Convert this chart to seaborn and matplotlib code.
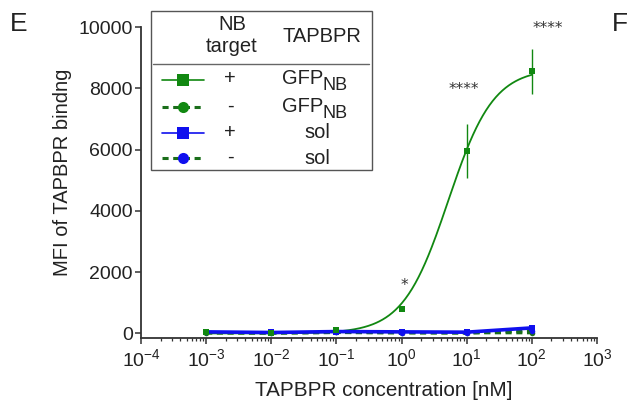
import numpy as np
import pandas as pd
import matplotlib
matplotlib.use("Agg")
import matplotlib.pyplot as plt
import seaborn as sns
from matplotlib.lines import Line2D
from matplotlib.patches import Rectangle

# Data
conc = [1e-3, 1e-2, 1e-1, 1, 10, 100]
gfp_pos = [40, 20, 100, 810, 5950, 8550]
gfp_pos_err = [0, 0, 0, 0, 880, 730]
gfp_neg = [10, 10, 30, 20, 20, 20]
sol_pos = [50, 30, 60, 50, 40, 180]
sol_neg = [30, 10, 30, 20, 10, 90]

# Hill fit parameters for the GFP_NB + curve
fit_top = 8650
fit_ec50 = 5.2
fit_hill = 1.25

# significance annotations (x, y, text)
sig_x = [1.1, 9.0, 175]
sig_y = [1570, 7950, 9950]
sig_txt = ['*', '****', '****']

sns.set_theme(style='ticks')
plt.rcParams['font.family'] = ['Liberation Sans', 'DejaVu Sans']
plt.rcParams['mathtext.fontset'] = 'custom'
plt.rcParams['mathtext.rm'] = 'Liberation Sans'

green = '#118811'
dgreen = '#1a6e1a'
blue = '#1010ee'
axcol = '#333333'
txtcol = '#222222'

fig = plt.figure(figsize=(6.32, 4.05), dpi=100)
ax = fig.add_axes([141 / 632, 1 - 338 / 405, (597 - 141) / 632, (338 - 27) / 405])

# fitted curve
xfit = np.logspace(-3, 2, 300)
yfit = fit_top * xfit ** fit_hill / (xfit ** fit_hill + fit_ec50 ** fit_hill)
sns.lineplot(x=xfit, y=yfit, color=green, lw=1.3, ax=ax, estimator=None)

# flat series
sns.lineplot(x=conc, y=gfp_neg, color=dgreen, lw=2.2, ls=(0, (2, 1.5)), marker='o',
             markersize=4, markeredgewidth=0, ax=ax)
sns.lineplot(x=conc, y=sol_neg, color=dgreen, lw=2.2, ls=(0, (2, 1.5)), marker='o',
             markersize=4, markerfacecolor=blue, markeredgewidth=0, ax=ax)
sns.lineplot(x=conc, y=sol_pos, color=blue, lw=2.6, marker='s',
             markersize=4.5, markeredgewidth=0, ax=ax)

# GFP_NB + points with error bars
ax.errorbar(conc, gfp_pos, yerr=gfp_pos_err, fmt='s', color=green, ms=4.5,
            mew=0, elinewidth=1.0, capsize=2, capthick=1.0, zorder=5)

for sx, sy, st in zip(sig_x, sig_y, sig_txt):
    ax.text(sx, sy, st, ha='center', va='center', fontsize=11, color='#333333',
            family='DejaVu Sans')

ax.set_xscale('log')
ax.set_xlim(1e-4, 1e3)
ax.set_ylim(-150, 10000)
ax.set_yticks([0, 2000, 4000, 6000, 8000, 10000])
ax.set_xlabel('TAPBPR concentration [nM]', fontsize=14.9, color=txtcol)
ax.set_ylabel('MFI of TAPBPR bindng', fontsize=14.5, color=txtcol)
ax.xaxis.set_label_coords(0.533, -0.137)
ax.yaxis.set_label_coords(-0.151, 0.534)
ax.tick_params(axis='both', which='major', labelsize=14, colors=axcol, length=4,
               width=1.1, pad=2, labelcolor=txtcol)
ax.tick_params(axis='x', which='minor', length=2.5, width=0.9, colors=axcol)
ax.tick_params(axis='x', which='major', pad=3)
for side in ['top', 'right']:
    ax.spines[side].set_visible(False)
for side in ['left', 'bottom']:
    ax.spines[side].set_color(axcol)
    ax.spines[side].set_linewidth(1.3)

# panel letters
fig.text(10 / 632, 1 - 24 / 405, 'E', fontsize=19, va='center', ha='left', color=txtcol)
fig.text(612 / 632, 1 - 24 / 405, 'F', fontsize=19, va='center', ha='left', color=txtcol)

# table-style legend
def fx(px):
    return px / 632

def fy(py):
    return 1 - py / 405

fig.patches.append(Rectangle((fx(151), fy(170)), fx(372) - fx(151), fy(11) - fy(170),
                             transform=fig.transFigure, fill=True, facecolor='white',
                             edgecolor='#555555', lw=1.0, zorder=10))
fig.lines.append(Line2D([fx(153), fx(369)], [fy(64), fy(64)], transform=fig.transFigure,
                        color='#666666', lw=1.0, zorder=11))
lfs = 14.5
fig.text(fx(232), fy(25), 'NB', ha='center', va='center', fontsize=lfs, zorder=12, color=txtcol)
fig.text(fx(232), fy(47), 'target', ha='center', va='center', fontsize=lfs, zorder=12, color=txtcol)
fig.text(fx(322), fy(37), 'TAPBPR', ha='center', va='center', fontsize=lfs, zorder=12, color=txtcol)

row_y = [80, 107, 133, 158]
row_sign = ['+', '-', '+', '-']
row_name = ['GFP', 'GFP', 'sol', 'sol']
row_sub = ['NB', 'NB', '', '']
row_style = [
    dict(color=green, ls='-', lw=1.2, marker='s', mfc=green),
    dict(color=dgreen, ls=(0, (2, 1.5)), lw=2.2, marker='o', mfc=green),
    dict(color=blue, ls='-', lw=1.2, marker='s', mfc=blue),
    dict(color=dgreen, ls=(0, (2, 1.5)), lw=2.2, marker='o', mfc=blue),
]
for ry, sgn, nm, sub, st in zip(row_y, row_sign, row_name, row_sub, row_style):
    fig.lines.append(Line2D([fx(162), fx(204)], [fy(ry), fy(ry)], transform=fig.transFigure,
                            color=st['color'], ls=st['ls'], lw=st['lw'], zorder=11))
    fig.lines.append(Line2D([fx(183)], [fy(ry)], transform=fig.transFigure, marker=st['marker'],
                            ms=8, mfc=st['mfc'], mew=0, ls='none', zorder=12))
    fig.text(fx(230), fy(ry - 1), sgn, ha='center', va='center', fontsize=lfs, zorder=12,
             color=txtcol)
    if sub:
        fig.text(fx(323), fy(ry - 1), nm, ha='right', va='center', fontsize=lfs, zorder=12,
                 color=txtcol)
        fig.text(fx(323), fy(ry + 6), sub, ha='left', va='center', fontsize=13, zorder=12,
                 color=txtcol)
    else:
        fig.text(fx(317), fy(ry), nm, ha='center', va='center', fontsize=lfs, zorder=12,
                 color=txtcol)

fig.savefig('out.png', dpi=100)
